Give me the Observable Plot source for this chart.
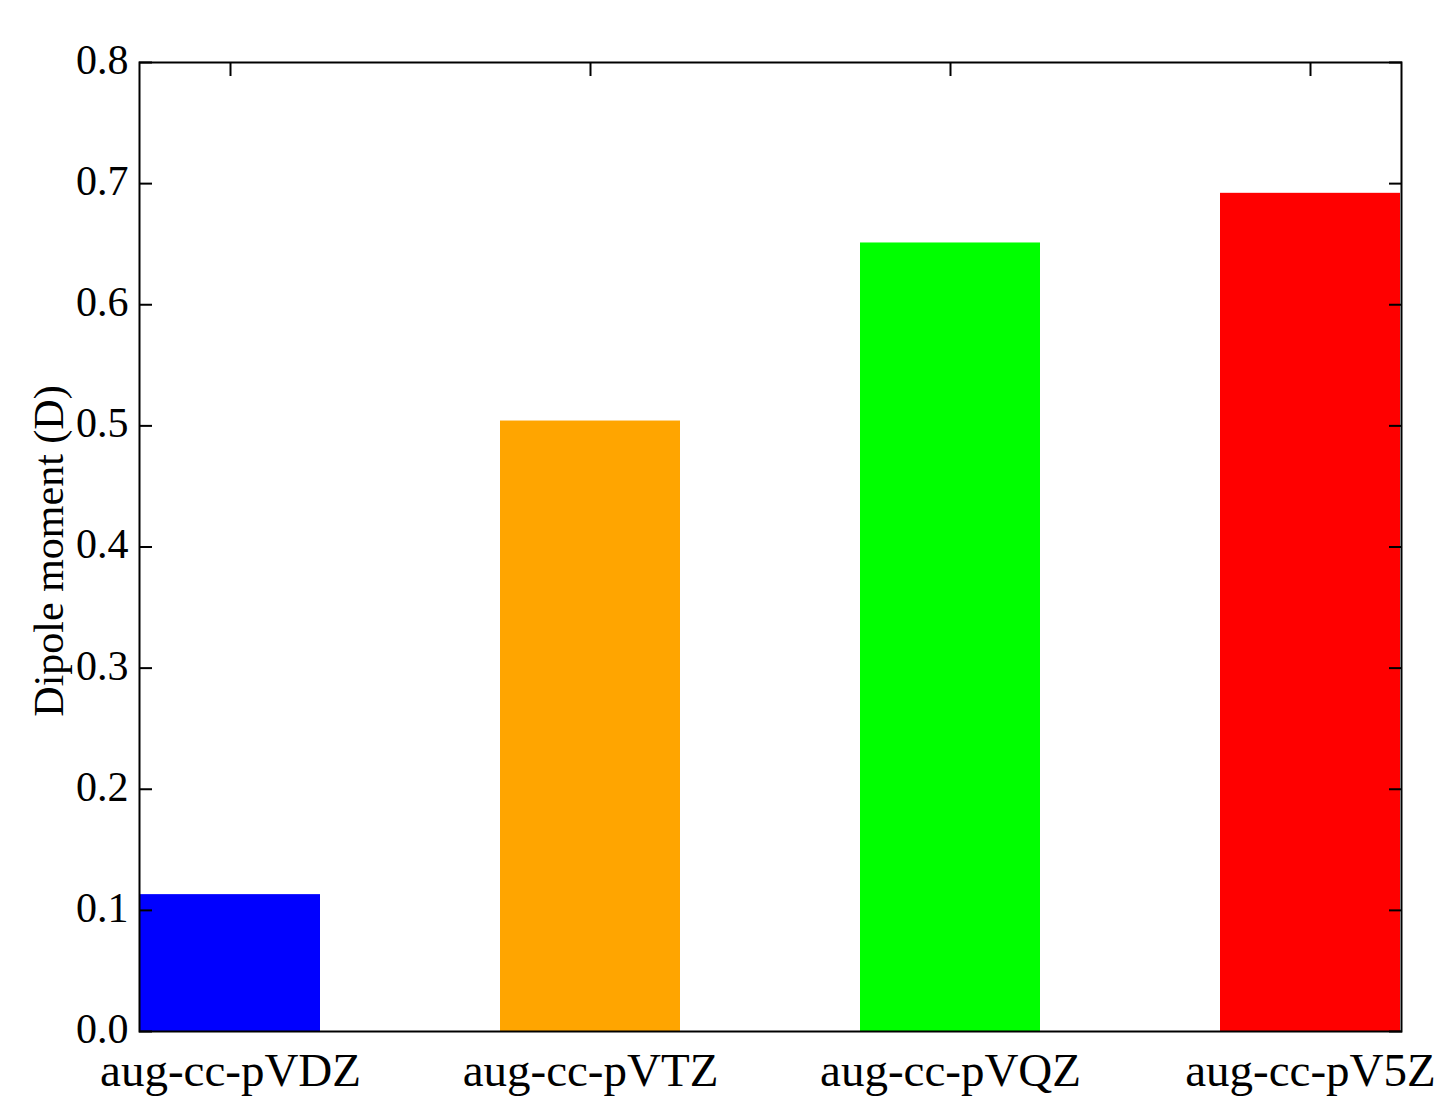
<!DOCTYPE html>
<html>
<head>
<meta charset="utf-8">
<script src="https://cdn.jsdelivr.net/npm/d3@7"></script>
<script src="https://cdn.jsdelivr.net/npm/@observablehq/plot@0.6"></script>
<style>
  html, body { margin: 0; padding: 0; background: #fff; }
  #chart svg { display: block; }
</style>
</head>
<body>
<div id="chart"></div>
<script>
const basisSets = ["aug-cc-pVDZ", "aug-cc-pVTZ", "aug-cc-pVQZ", "aug-cc-pV5Z"];
const dipoleValues = [0.113, 0.504, 0.651, 0.692];
const barColors = ["#0000ff", "#ffa500", "#00ff00", "#ff0000"];
const yTicks = [0.0, 0.1, 0.2, 0.3, 0.4, 0.5, 0.6, 0.7, 0.8];
const yLabel = "Dipole moment (D)";

const data = basisSets.map((b, i) => ({basis: b, value: dipoleValues[i], color: barColors[i]}));

const font = "'Liberation Serif', 'Times New Roman', serif";

const chart = Plot.plot({
  width: 1445,
  height: 1097,
  marginLeft: 139,
  marginRight: 44,
  marginTop: 62,
  marginBottom: 66,
  style: {fontFamily: font, background: "#fff", color: "#000"},
  x: {type: "band", domain: basisSets, paddingInner: 0.5, paddingOuter: 0, label: null},
  y: {domain: [0, 0.8], label: null},
  marks: [
    Plot.rectY(data, {x: "basis", y: "value", fill: "color"}),
    Plot.frame({stroke: "#000", strokeWidth: 2}),
    // tick labels
    Plot.axisY({ticks: yTicks, tickFormat: d3.format(".1f"), tickSize: 0, tickPadding: 11, fontSize: 42, dy: -2, label: null}),
    Plot.axisX({tickSize: 0, tickPadding: 21, fontSize: 47, label: null}),
    // inward tick marks
    Plot.axisY({ticks: yTicks, tickSize: 13, dx: 13, text: null, strokeWidth: 2, label: null}),
    Plot.axisY({anchor: "right", ticks: yTicks, tickSize: 13, dx: -13, text: null, strokeWidth: 2, label: null}),
    Plot.axisX({anchor: "top", tickSize: 13, dy: 13, text: null, strokeWidth: 2, label: null}),
    // y label
    Plot.text([yLabel], {frameAnchor: "left", text: d => d, rotate: -90, dx: -90, dy: 4, fontSize: 42, textAnchor: "middle", lineAnchor: "middle"})
  ]
});
document.getElementById("chart").append(chart);
</script>
</body>
</html>
